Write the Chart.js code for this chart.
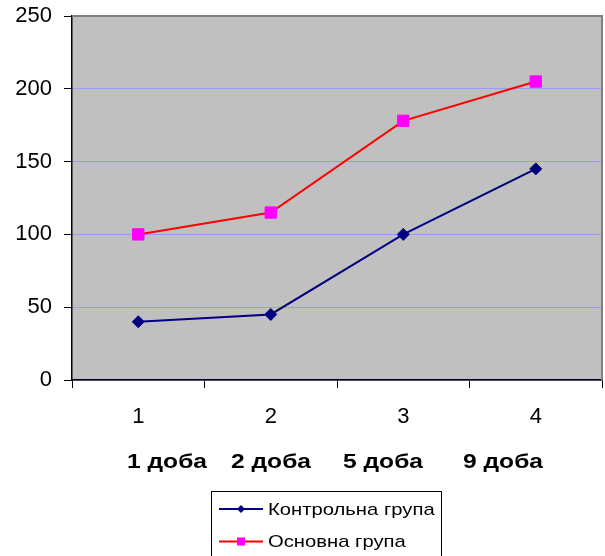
<!DOCTYPE html>
<html>
<head>
<meta charset="utf-8">
<script src="https://cdn.jsdelivr.net/npm/chart.js@4"></script>
<style>
  html, body { margin: 0; padding: 0; background: #fff; }
  #wrap { width: 605px; height: 556px; }
</style>
</head>
<body>
<div id="wrap"><canvas id="c" width="605" height="556"></canvas></div>
<script>
// Category numbers and the day each one stands for
const categories = ['1', '2', '3', '4'];
const dayLabels = ['1 доба', '2 доба', '5 доба', '9 доба'];

// Series values
const controlName = 'Контрольна група';
const controlValues = [40, 45, 100, 145];
const mainName = 'Основна група';
const mainValues = [100, 115, 178, 205];

// Value axis range
const yMin = 0;
const yMax = 250;
const yStep = 50;

const FONT = '"Liberation Sans", Arial, sans-serif';

// Draws text widened horizontally around its anchor point
function drawWideText(ctx, text, x, y, sx, align) {
  ctx.save();
  ctx.translate(x, y);
  ctx.scale(sx, 1);
  ctx.textAlign = align;
  ctx.fillText(text, 0, 0);
  ctx.restore();
}

// Grey plot background and the grey top/right frame
const plotFrame = {
  id: 'plotFrame',
  beforeDraw(chart) {
    const { ctx, chartArea: a } = chart;
    ctx.save();
    ctx.fillStyle = '#C0C0C0';
    ctx.fillRect(a.left, a.top, a.right - a.left, a.bottom - a.top);
    ctx.restore();
  },
  afterDatasetsDraw(chart) {
    const { ctx, chartArea: a } = chart;
    ctx.save();
    ctx.strokeStyle = '#808080';
    ctx.lineWidth = 2;
    ctx.beginPath();
    ctx.moveTo(a.left, a.top);
    ctx.lineTo(a.right, a.top);
    ctx.lineTo(a.right, a.bottom);
    ctx.stroke();
    ctx.restore();
  }
};

// Bold row of day names under the category numbers
const dayRow = {
  id: 'dayRow',
  afterDraw(chart) {
    const { ctx } = chart;
    const centers = [167, 271, 383, 503];
    ctx.save();
    ctx.fillStyle = '#000';
    ctx.font = 'bold 21px ' + FONT;
    ctx.textBaseline = 'middle';
    dayLabels.forEach((t, i) => drawWideText(ctx, t, centers[i], 462, 1.17, 'center'));
    ctx.restore();
  }
};

// Boxed legend under the axes: line sample with marker, then the series name
const boxedLegend = {
  id: 'boxedLegend',
  afterDraw(chart) {
    const { ctx } = chart;
    const left = 211.5, top = 491.5, width = 230, rowH = 32.5;
    ctx.save();
    ctx.strokeStyle = '#000';
    ctx.lineWidth = 1;
    ctx.strokeRect(left, top, width, 120);
    ctx.font = '17px ' + FONT;
    ctx.textBaseline = 'middle';
    chart.data.datasets.forEach((ds, i) => {
      const y = top + 17.5 + i * rowH;
      ctx.strokeStyle = ds.borderColor;
      ctx.lineWidth = 2;
      ctx.beginPath();
      ctx.moveTo(219, y);
      ctx.lineTo(263, y);
      ctx.stroke();
      ctx.fillStyle = ds.pointBackgroundColor;
      const cx = 241;
      if (ds.pointStyle === 'rectRot') {
        const r = 4;
        ctx.beginPath();
        ctx.moveTo(cx, y - r);
        ctx.lineTo(cx + r, y);
        ctx.lineTo(cx, y + r);
        ctx.lineTo(cx - r, y);
        ctx.closePath();
        ctx.fill();
      } else {
        ctx.fillRect(cx - 4, y - 4, 8, 8);
      }
      ctx.fillStyle = '#000';
      drawWideText(ctx, ds.label, 268, y + 1, 1.19, 'left');
    });
    ctx.restore();
  }
};

new Chart(document.getElementById('c'), {
  type: 'line',
  data: {
    labels: categories,
    datasets: [
      {
        label: controlName,
        data: controlValues,
        borderColor: '#000080',
        backgroundColor: '#000080',
        pointBackgroundColor: '#000080',
        pointBorderColor: '#000080',
        borderWidth: 2,
        pointStyle: 'rectRot',
        pointRadius: 6,
        pointHoverRadius: 6,
        pointBorderWidth: 1,
        tension: 0
      },
      {
        label: mainName,
        data: mainValues,
        borderColor: '#FF0000',
        backgroundColor: '#FF00FF',
        pointBackgroundColor: '#FF00FF',
        pointBorderColor: '#FF00FF',
        borderWidth: 2,
        pointStyle: 'rect',
        pointRadius: 8,
        pointHoverRadius: 8,
        pointBorderWidth: 1,
        tension: 0
      }
    ]
  },
  options: {
    responsive: false,
    animation: false,
    events: [],
    layout: { autoPadding: false, padding: { left: 0, right: 3, top: 16, bottom: 116 } },
    plugins: {
      legend: { display: false },
      tooltip: { enabled: false }
    },
    scales: {
      x: {
        type: 'category',
        position: 'bottom',
        offset: true,
        grid: {
          offset: true,
          drawOnChartArea: false,
          drawTicks: true,
          tickLength: 8,
          tickColor: '#000',
          color: '#000'
        },
        border: { display: true, color: '#000', width: 1.5 },
        ticks: {
          color: '#000',
          padding: 16,
          font: { family: FONT, size: 22 },
          maxRotation: 0
        },
        afterFit(scale) {
          scale.height = 60;
          scale.paddingLeft = 0;
          scale.paddingRight = 0;
        }
      },
      y: {
        min: yMin,
        max: yMax,
        ticks: {
          stepSize: yStep,
          color: '#000',
          padding: 12,
          font: { family: FONT, size: 22 }
        },
        grid: {
          color: '#9999FF',
          lineWidth: 1,
          tickLength: 8,
          tickColor: '#000'
        },
        border: { display: true, color: '#000', width: 1.5 },
        afterFit(scale) {
          scale.width = 72;
          scale.paddingTop = 0;
          scale.paddingBottom = 0;
        }
      }
    }
  },
  plugins: [plotFrame, dayRow, boxedLegend]
});
</script>
</body>
</html>
